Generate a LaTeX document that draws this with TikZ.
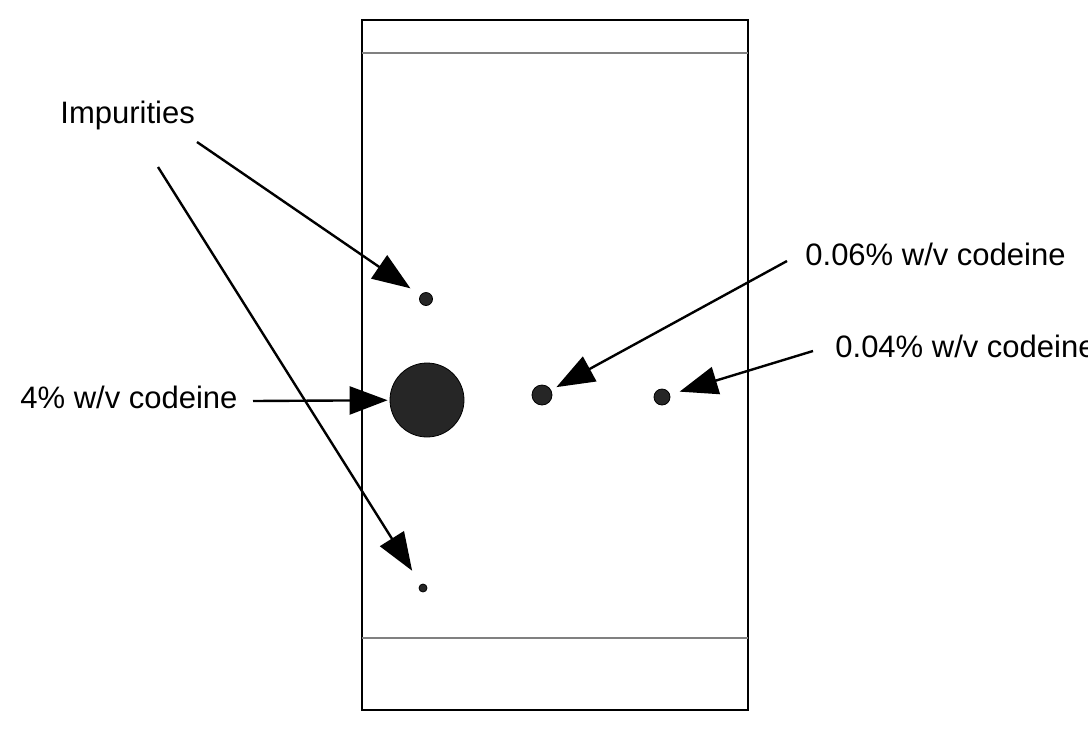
\documentclass[tikz,border=0pt]{standalone}
\usepackage{fontspec}
\setmainfont{Liberation Sans}
\usetikzlibrary{arrows.meta}

\begin{document}
\begin{tikzpicture}[x=0.5pt, y=-0.5pt, every node/.style={font=\fontsize{15.5}{18}\selectfont}, >={Triangle[length=19pt,width=14pt]}, spot/.style={circle, fill=black!85, draw=black, inner sep=0pt}, pointer/.style={->, line width=1.2pt}]
	\useasboundingbox (0,0) rectangle (1088,735);
	\draw[line width=1.2pt] (362,20) rectangle (748,710);
	\draw[gray, line width=0.7pt] (362,53) -- (748,53);
	\draw[gray, line width=0.7pt] (362,638) -- (748,638);
	\node[spot, minimum size=37pt] (main) at (427,400) {};
	\node[spot, minimum size=6.5pt] (imptop) at (426,299) {};
	\node[spot, minimum size=4pt] (impbot) at (423,588) {};
	\node[spot, minimum size=10pt] (mid) at (542,395) {};
	\node[spot, minimum size=8pt] (low) at (662,397) {};
	\node[anchor=base west, inner sep=0pt] (implabel) at (60,123) {Impurities};
	\node[anchor=base west, inner sep=0pt] (mainlabel) at (20,408) {4\% w/v codeine};
	\node[anchor=base west, inner sep=0pt] (midlabel) at (805,265) {0.06\% w/v codeine};
	\node[anchor=base west, inner sep=0pt] (lowlabel) at (835,357) {0.04\% w/v codeine};
	\coordinate (imptailA) at (197,142);
	\coordinate (imptailB) at (158,167);
	\coordinate (maintail) at (253,401);
	\coordinate (midtail) at (787,261);
	\coordinate (lowtail) at (813,351);
	\draw[pointer, shorten >=6pt] (imptailA) -- (imptop);
	\draw[pointer, shorten >=8pt] (imptailB) -- (impbot);
	\draw[pointer, shorten >=1pt] (maintail) -- (main);
	\draw[pointer, shorten >=3pt] (midtail) -- (mid);
	\draw[pointer, shorten >=5pt] (lowtail) -- (low);
\end{tikzpicture}
\end{document}
